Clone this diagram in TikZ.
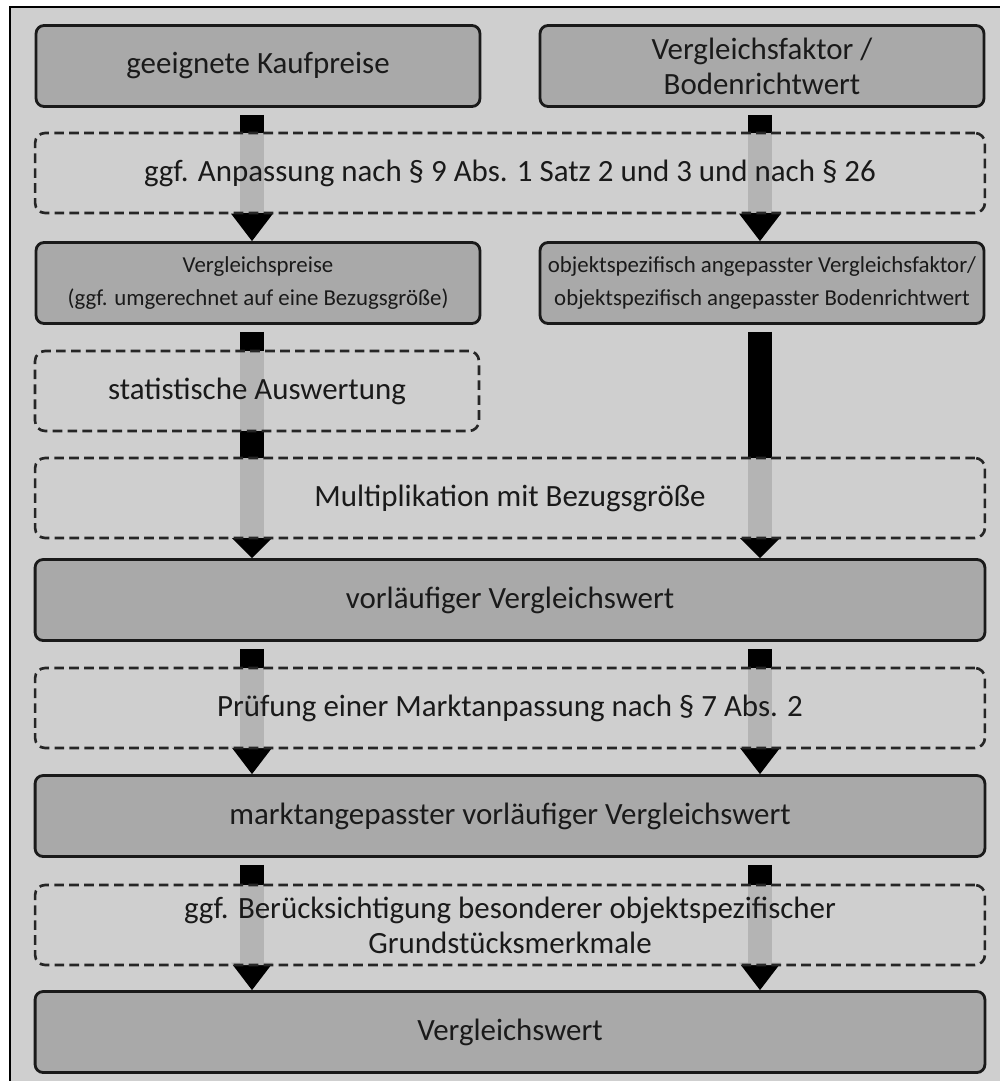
\documentclass[tikz,border=0pt]{standalone}
\usepackage{fontspec}
\setmainfont{Carlito}
\usetikzlibrary{arrows.meta}
\pgfdeclarelayer{back}
\pgfsetlayers{back,main}
\definecolor{bgcol}{HTML}{CFCFCF}
\definecolor{boxcol}{HTML}{A9A9A9}
\definecolor{inkcol}{HTML}{1A1A1A}
\tikzset{
  solidbox/.style={draw=inkcol, line width=1.6pt, fill=boxcol, rounded corners=0.16cm,
    text=inkcol, align=center, minimum height=1.62cm, font=\fontsize{17.6}{20}\selectfont},
  dashbox/.style={draw=black!85, line width=1.5pt, dash pattern=on 5.5pt off 3pt,
    fill=bgcol, fill opacity=0.87, text opacity=1, rounded corners=0.2cm,
    text=inkcol, align=center, minimum height=1.6cm, font=\fontsize{17.6}{20}\selectfont},
  smalltext/.style={font=\fontsize{13}{19}\selectfont},
  half/.style={minimum width=8.88cm},
  full/.style={minimum width=19cm},
  flow/.style={line width=0.48cm, shorten <=4pt,
    -{Triangle[width=0.84cm, length=0.55cm, line width=0pt]}},
  flowshort/.style={flow, -{Triangle[width=0.8cm, length=0.4cm, line width=0pt]}}
}
\begin{document}
\begin{tikzpicture}[x=0.02cm, y=-0.02cm]
    \useasboundingbox (0,0) rectangle (1000,1081);
    \begin{pgfonlayer}{back}
      \fill[bgcol] (10,7) rectangle (1000,1081);
    \end{pgfonlayer}
    \draw[line width=1.2pt] (10,1081) -- (10,7) -- (1000,7);
    \coordinate (lcol) at (252,0);
    \coordinate (rcol) at (760,0);
    \node[solidbox,half] (kauf) at (258,66) {geeignete Kaufpreise};
    \node[solidbox,half] (faktor) at (762,66) {Vergleichsfaktor /\\Bodenrichtwert};
    \node[solidbox,half,smalltext] (vpreise) at (258,283) {Vergleichspreise\\(ggf. umgerechnet auf eine Bezugsgröße)};
    \node[solidbox,half,smalltext] (objekt) at (762,283) {objektspezifisch angepasster Vergleichsfaktor/\\objektspezifisch angepasster Bodenrichtwert};
    \node[solidbox,full] (vorl) at (510,600) {vorläufiger Vergleichswert};
    \node[solidbox,full] (markt) at (510,816) {marktangepasster vorläufiger Vergleichswert};
    \node[solidbox,full] (vwert) at (510,1032) {Vergleichswert};
    \begin{pgfonlayer}{back}
      \draw[flow] (kauf.south -| lcol) -- (vpreise.north -| lcol);
      \draw[flow] (faktor.south -| rcol) -- (objekt.north -| rcol);
      \draw[flowshort] (vpreise.south -| lcol) -- (vorl.north -| lcol);
      \draw[flowshort] (objekt.south -| rcol) -- (vorl.north -| rcol);
      \draw[flow] (vorl.south -| lcol) -- (markt.north -| lcol);
      \draw[flow] (vorl.south -| rcol) -- (markt.north -| rcol);
      \draw[flow] (markt.south -| lcol) -- (vwert.north -| lcol);
      \draw[flow] (markt.south -| rcol) -- (vwert.north -| rcol);
    \end{pgfonlayer}
    \node[dashbox,full] (anpass) at (510,173) {ggf. Anpassung nach § 9 Abs. 1 Satz 2 und 3 und nach § 26};
    \node[dashbox,half] (statist) at (257,391) {statistische Auswertung};
    \node[dashbox,full] (multi) at (510,498) {Multiplikation mit Bezugsgröße};
    \node[dashbox,full] (pruef) at (510,708) {Prüfung einer Marktanpassung nach § 7 Abs. 2};
    \node[dashbox,full] (beruecks) at (510,925) {ggf. Berücksichtigung besonderer objektspezifischer\\Grundstücksmerkmale};
\end{tikzpicture}
\end{document}
